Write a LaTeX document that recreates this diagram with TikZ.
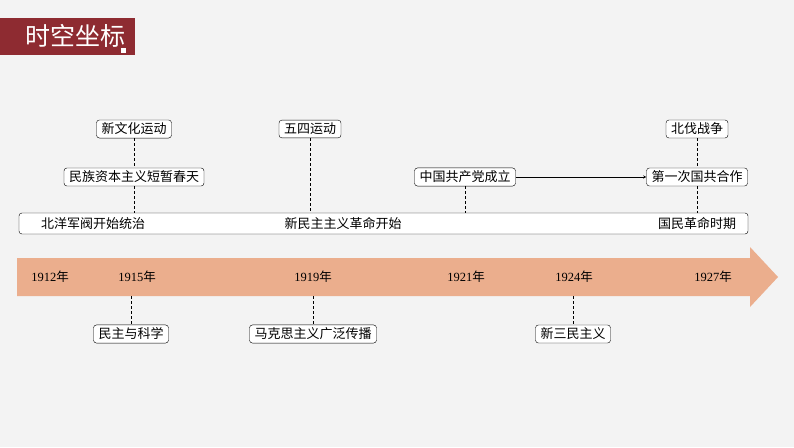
\documentclass[tikz,border=0pt]{standalone}
\usepackage{fontspec}
\setmainfont{Liberation Serif}
\newfontfamily\cjk{Noto Sans CJK SC}
\usepackage{tikz}
\usetikzlibrary{calc,positioning}
\definecolor{bgray}{HTML}{F3F3F3}
\definecolor{titlered}{HTML}{8E2B31}
\definecolor{band}{HTML}{EBAE8D}
\begin{document}
\begin{tikzpicture}[x=1pt, y=-1pt,
  evbox/.style={draw, rounded corners=3pt, fill=white, inner xsep=5pt, inner ysep=3pt, font=\cjk\fontsize{13}{15}\selectfont},
  yeartxt/.style={font=\fontsize{12.5}{14}\selectfont},
  link/.style={densely dashed, thin}]
  \fill[bgray] (0,0) rectangle (794,447); % 背景
  \useasboundingbox (0,0) rectangle (794,447);

  % 标题
  \fill[titlered] (0,18) rectangle (135,55);
  \node[anchor=west, text=white, font=\cjk\fontsize{25}{28}\selectfont] (title) at (22,36) {时空坐标};
  \fill[white] (121,48) rectangle (126,53);

  % 时间轴
  \fill[band] (17,258) -- (750,258) -- (750,247) -- (778,277) -- (750,307) -- (750,296) -- (17,296) -- cycle;
  \node[yeartxt] (y1912) at (50,277) {1912{\cjk 年}};
  \node[yeartxt] (y1915) at (137,277) {1915{\cjk 年}};
  \node[yeartxt] (y1919) at (313,277) {1919{\cjk 年}};
  \node[yeartxt] (y1921) at (466,277) {1921{\cjk 年}};
  \node[yeartxt] (y1924) at (574,277) {1924{\cjk 年}};
  \node[yeartxt] (y1927) at (713,277) {1927{\cjk 年}};

  % 时期
  \draw[rounded corners=3pt, fill=white] (19,213) rectangle (748,234);
  \node[font=\cjk\fontsize{13}{15}\selectfont] (beiyang) at (93,224) {北洋军阀开始统治};
  \node[font=\cjk\fontsize{13}{15}\selectfont] (xinmin) at (343,224) {新民主主义革命开始};
  \node[font=\cjk\fontsize{13}{15}\selectfont] (guomin) at (697,224) {国民革命时期};
  \coordinate (p134) at (134,213);
  \coordinate (p310) at (310,213);
  \coordinate (p465) at (465,213);
  \coordinate (p697) at (697,213);

  % 事件
  \node[evbox] (xinwenhua) at (134,129) {新文化运动};
  \node[evbox] (minzu) at (134,177) {民族资本主义短暂春天};
  \node[evbox] (wusi) at (310,129) {五四运动};
  \node[evbox] (zhonggong) at (465,177) {中国共产党成立};
  \node[evbox] (guogong) at (697,177) {第一次国共合作};
  \node[evbox] (beifa) at (697,129) {北伐战争};
  \node[evbox] (minzhu) at (131,334) {民主与科学};
  \node[evbox] (makesi) at (313,334) {马克思主义广泛传播};
  \node[evbox] (sanmin) at (573,334) {新三民主义};
  \coordinate (q131) at (131,296);
  \coordinate (q313) at (313,296);
  \coordinate (q573) at (573,296);

  % 连线
  \draw[link] (xinwenhua) -- (minzu);
  \draw[link] (minzu) -- (p134);
  \draw[link] (wusi) -- (p310);
  \draw[link] (zhonggong) -- (p465);
  \draw[link] (beifa) -- (guogong);
  \draw[link] (guogong) -- (p697);
  \draw[link] (q131) -- (minzhu);
  \draw[link] (q313) -- (makesi);
  \draw[link] (q573) -- (sanmin);
  \draw[->, >=stealth, thin] (zhonggong) -- (guogong);
\end{tikzpicture}
\end{document}
